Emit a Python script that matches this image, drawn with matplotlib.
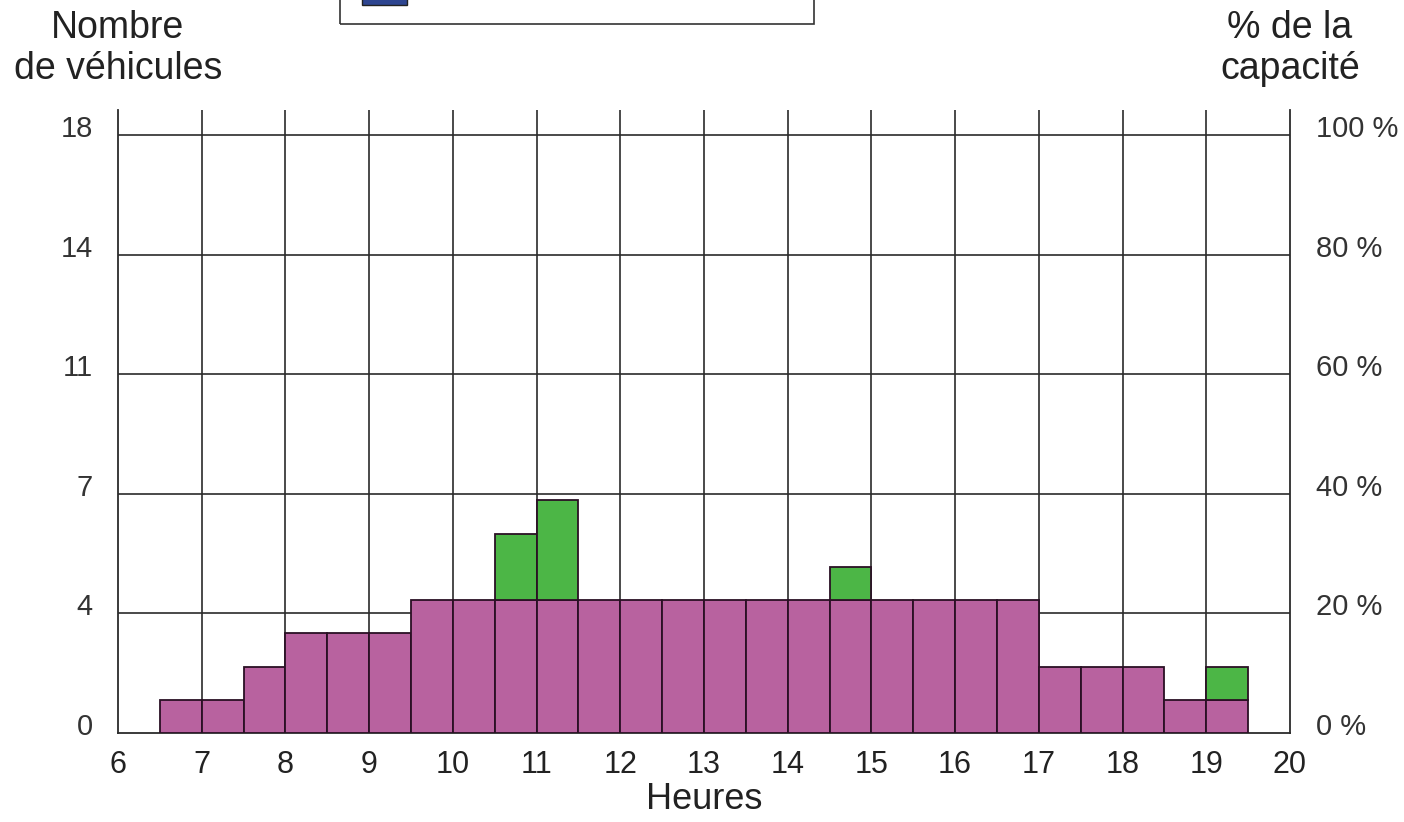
import matplotlib

matplotlib.use("Agg")
import matplotlib.patches as mpatches
import matplotlib.pyplot as plt
import matplotlib.transforms as mtransforms
import numpy as np

plt.rcParams["font.family"] = ["Liberation Sans", "DejaVu Sans"]

# half-hour slots (left edge of each bar), vehicles parked
slot_start = [6.5, 7.0, 7.5, 8.0, 8.5, 9.0, 9.5, 10.0, 10.5, 11.0, 11.5, 12.0, 12.5,
              13.0, 13.5, 14.0, 14.5, 15.0, 15.5, 16.0, 16.5, 17.0, 17.5, 18.0, 18.5, 19.0]
purple_count = [1, 1, 2, 3, 3, 3, 4, 4, 4, 4, 4, 4, 4,
                4, 4, 4, 4, 4, 4, 4, 4, 2, 2, 2, 1, 1]
green_count = [0, 0, 0, 0, 0, 0, 0, 0, 2, 3, 0, 0, 0,
               0, 0, 0, 1, 0, 0, 0, 0, 0, 0, 0, 0, 1]

capacity = 18
pct_ticks = [0, 20, 40, 60, 80, 100]
count_labels = ["0", "4", "7", "11", "14", "18"]
pct_labels = ["0 %", "20 %", "40 %", "60 %", "80 %", "100 %"]
hours = list(range(6, 21))

PURPLE = "#b8629f"
GREEN = "#4cb646"
EDGE = "#2a1024"
GRID = "#2b2b2b"
TXT = "#222222"

fig = plt.figure(figsize=(14.04, 8.22), dpi=100)
ax = fig.add_axes([0.084, 0.1083, 0.8348, 0.758])

x = np.array(slot_start)
p = np.array(purple_count, dtype=float)
g = np.array(green_count, dtype=float)
ax.bar(x, p, width=0.5, align="edge", color=PURPLE, edgecolor=EDGE,
       linewidth=1.3, zorder=3)
gm = g > 0
ax.bar(x[gm], g[gm], width=0.5, bottom=p[gm], align="edge", color=GREEN,
       edgecolor=EDGE, linewidth=1.3, zorder=3)

ytick_vals = [capacity * t / 100 for t in pct_ticks]
ax.set_xlim(6, 20)
ax.set_ylim(0, capacity * 1.042)
ax.set_xticks(hours)
ax.set_xticklabels([str(h) for h in hours], fontsize=22, color=TXT)
ax.set_yticks(ytick_vals)
ax.set_yticklabels(count_labels, fontsize=21, color="#333")
ax.tick_params(axis="both", length=0)
ax.tick_params(axis="x", pad=12)
ax.tick_params(axis="y", pad=18)

# grid: vertical lines at hours, horizontal at capacity fractions
for h in hours[1:-1]:
    ax.axvline(h, color=GRID, linewidth=1.2, zorder=1)
for yv in ytick_vals[1:]:
    ax.axhline(yv, color=GRID, linewidth=1.2, zorder=1)

for side in ("left", "right", "bottom"):
    ax.spines[side].set_linewidth(1.3)
    ax.spines[side].set_color(GRID)
ax.spines["top"].set_visible(False)

ax2 = ax.twinx()
ax2.set_ylim(ax.get_ylim())
ax2.set_yticks(ytick_vals)
ax2.set_yticklabels(pct_labels, fontsize=21, color="#333")
ax2.tick_params(axis="y", length=0, pad=19)
for s in ax2.spines.values():
    s.set_visible(False)

# y labels sit a little above their lines in the original
shift = mtransforms.ScaledTranslation(0, 6.5 / 72, fig.dpi_scale_trans)
for lab in ax.get_yticklabels() + ax2.get_yticklabels():
    lab.set_transform(lab.get_transform() + shift)

fig.text(0.5014, 0.027, "Heures", ha="center", va="center",
         fontsize=26, color=TXT)
fig.text(0.084, 0.941, "Nombre\nde véhicules", ha="center", va="center",
         fontsize=27, color=TXT, linespacing=1.15)
fig.text(0.9188, 0.941, "% de la\ncapacité", ha="center", va="center",
         fontsize=27, color=TXT, linespacing=1.15)

# legend box, cut at top of the image
fig.patches.append(mpatches.Rectangle((0.2425, 0.971), 0.3375, 0.1,
                                      transform=fig.transFigure, fill=False,
                                      edgecolor="#333", linewidth=1.2))
fig.patches.append(mpatches.Rectangle((0.258, 0.994), 0.032, 0.05,
                                      transform=fig.transFigure,
                                      facecolor="#2e4590", edgecolor="#222",
                                      linewidth=1.0))

fig.savefig("out.png", dpi=100, facecolor="white")
